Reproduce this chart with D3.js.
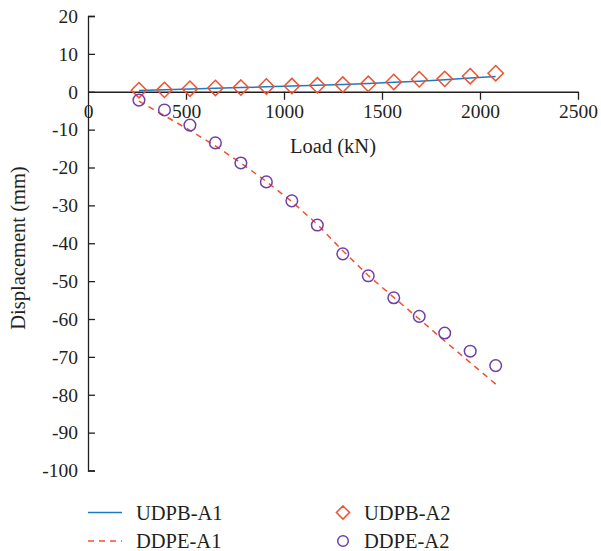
<!DOCTYPE html>
<html>
<head>
<meta charset="utf-8">
<script src="https://cdn.jsdelivr.net/npm/d3@7"></script>
<style>
  html, body { margin: 0; padding: 0; background: #fff; }
  text { font-family: "Liberation Serif", "DejaVu Serif", serif; fill: #231f20; }
</style>
</head>
<body>
<svg id="chart" width="601" height="551"></svg>
<script>
// ---- data ----
const loads = [260, 390, 520, 650, 780, 910, 1040, 1170, 1300, 1430, 1560, 1690, 1820, 1950, 2080];
const udpbA1 = [0.3, 0.5, 0.7, 0.9, 1.1, 1.3, 1.5, 1.7, 1.9, 2.2, 2.5, 2.8, 3.2, 3.6, 4.0];
const udpbA2 = [0.4, 0.5, 0.8, 1.0, 1.1, 1.4, 1.5, 1.7, 1.9, 2.1, 2.6, 3.3, 3.4, 4.1, 4.9];
const ddpeA1 = [-2.5, -6.3, -10.2, -14.3, -18.8, -23.7, -29.0, -35.0, -42.0, -48.5, -54.3, -60.0, -65.8, -71.5, -77.2];
const ddpeA2 = [-2.2, -4.8, -8.8, -13.5, -18.8, -23.8, -28.8, -35.2, -42.8, -48.6, -54.4, -59.3, -63.7, -68.5, -72.3];
const xTicks = [0, 500, 1000, 1500, 2000, 2500];
const yTicks = [20, 10, 0, -10, -20, -30, -40, -50, -60, -70, -80, -90, -100];
const seriesNames = ["UDPB-A1", "DDPE-A1", "UDPB-A2", "DDPE-A2"];

const colBlue = "#1a7bc4";
const colRed = "#f2502f";
const colPurple = "#7040a8";
const axisCol = "#231f20";

const svg = d3.select("#chart");
const x = d3.scaleLinear().domain([0, 2500]).range([88, 578]);
const y = d3.scaleLinear().domain([-100, 20]).range([470.5, 16]);

const fs = 19.5;
const fmt = d => String(d);

// y axis
const yAxis = svg.append("g").attr("transform", `translate(${x(0)},0)`)
  .call(d3.axisRight(y).tickValues(yTicks).tickSize(7).tickFormat(fmt));
yAxis.select(".domain").attr("stroke", axisCol).attr("stroke-width", 1.3);
yAxis.selectAll(".tick line").attr("stroke", axisCol).attr("stroke-width", 1.3);
yAxis.selectAll(".tick text").attr("x", -10).attr("text-anchor", "end")
  .attr("font-size", fs).attr("font-family", "Liberation Serif").style("fill", axisCol);

// x axis
const xAxis = svg.append("g").attr("transform", `translate(0,${y(0)})`)
  .call(d3.axisBottom(x).tickValues(xTicks).tickSize(8).tickSizeOuter(0).tickFormat(fmt));
xAxis.select(".domain").attr("stroke", axisCol).attr("stroke-width", 1.3);
xAxis.selectAll(".tick line").attr("stroke", axisCol).attr("stroke-width", 1.3);
xAxis.selectAll(".tick text").attr("y", 12)
  .attr("font-size", fs).attr("font-family", "Liberation Serif").style("fill", axisCol);
xAxis.selectAll(".tick").filter(d => d === 0).select("line").remove();

// axis titles
svg.append("text").attr("x", 333).attr("y", 153).attr("text-anchor", "middle")
  .attr("font-size", 20.5).text("Load (kN)");
svg.append("text").attr("transform", "translate(25,248) rotate(-90)").attr("text-anchor", "middle")
  .attr("font-size", 20.5).text("Displacement (mm)");

// lines
const line = vals => d3.line().x((d, i) => x(loads[i])).y(d => y(d))(vals);
svg.append("path").attr("d", line(udpbA1)).attr("fill", "none")
  .attr("stroke", colBlue).attr("stroke-width", 1.5);
svg.append("path").attr("d", line(ddpeA1)).attr("fill", "none")
  .attr("stroke", colRed).attr("stroke-width", 1.5).attr("stroke-dasharray", "6,5");

// markers
const diamond = d3.symbol().type(d3.symbolDiamond2).size(150);
svg.append("g").selectAll("path").data(udpbA2).join("path")
  .attr("transform", (d, i) => `translate(${x(loads[i])},${y(d)})`)
  .attr("d", diamond).attr("fill", "none").attr("stroke", colRed).attr("stroke-width", 1.5);
svg.append("g").selectAll("circle").data(ddpeA2).join("circle")
  .attr("cx", (d, i) => x(loads[i])).attr("cy", d => y(d)).attr("r", 5.8)
  .attr("fill", "none").attr("stroke", colPurple).attr("stroke-width", 1.5);

// legend
const lg = svg.append("g");
lg.append("line").attr("x1", 88).attr("x2", 122).attr("y1", 512.5).attr("y2", 512.5)
  .attr("stroke", colBlue).attr("stroke-width", 1.5);
lg.append("line").attr("x1", 88).attr("x2", 122).attr("y1", 541).attr("y2", 541)
  .attr("stroke", colRed).attr("stroke-width", 1.5).attr("stroke-dasharray", "6,5");
lg.append("path").attr("transform", "translate(343,512.5)").attr("d", d3.symbol().type(d3.symbolDiamond2).size(110))
  .attr("fill", "none").attr("stroke", colRed).attr("stroke-width", 1.5);
lg.append("circle").attr("cx", 343).attr("cy", 541).attr("r", 5.3)
  .attr("fill", "none").attr("stroke", colPurple).attr("stroke-width", 1.5);
const legPos = [[136, 512.5], [136, 541], [364, 512.5], [364, 541]];
lg.selectAll("text").data(seriesNames).join("text")
  .attr("x", (d, i) => legPos[i][0]).attr("y", (d, i) => legPos[i][1])
  .attr("dy", "0.35em").attr("font-size", 20.5).text(d => d);
</script>
</body>
</html>
